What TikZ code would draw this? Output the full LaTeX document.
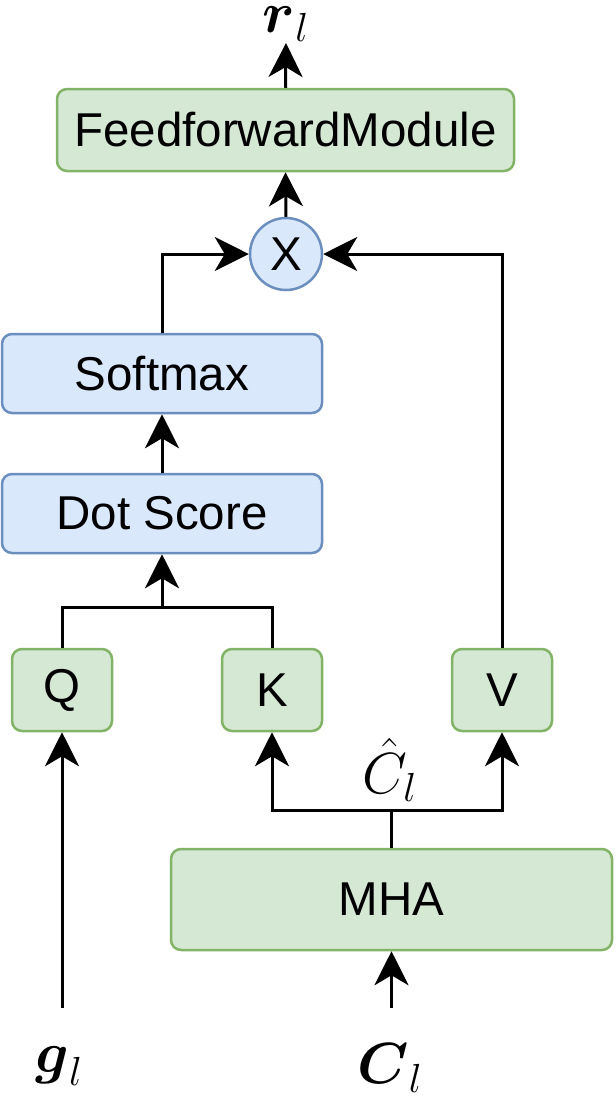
\RequirePackage{fix-cm}
\documentclass[tikz,border=0pt]{standalone}
\usepackage{amsmath}
\usepackage{amssymb}
\usepackage{fontspec}
\setmainfont{Liberation Sans}
\usetikzlibrary{arrows.meta}
\definecolor{gfill}{HTML}{D5E8D4}
\definecolor{gline}{HTML}{82B366}
\definecolor{bfill}{HTML}{DAE8FC}
\definecolor{bline}{HTML}{6C8EBF}
\tikzset{
  gbox/.style={draw=gline,fill=gfill,line width=1.25pt,rounded corners=5pt,inner sep=0pt},
  bbox/.style={draw=bline,fill=bfill,line width=1.25pt,rounded corners=5pt,inner sep=0pt},
  arr/.style={-{Stealth[length=17pt,width=17pt,inset=5pt]},line width=1.5pt},
  ln/.style={line width=1.5pt},
  lbl/.style={font=\fontsize{29}{34}\selectfont,inner sep=0pt},
}

\begin{document}
\begin{tikzpicture}[x=0.5pt,y=-0.5pt,font=\fontsize{23.75}{28}\selectfont]
  \useasboundingbox (0,0) rectangle (616,1100);
  % blocks
  \node[gbox,minimum width=228.5pt,minimum height=41pt] (ff) at (285.5,130) {FeedforwardModule};
  \node[bbox,circle,minimum size=36pt] (mul) at (286,254) {X};
  \node[bbox,minimum width=160pt,minimum height=39.5pt] (soft) at (162,373.5) {Softmax};
  \node[bbox,minimum width=160pt,minimum height=39.5pt] (dot) at (162,513.5) {Dot Score};
  \node[gbox,minimum width=50pt,minimum height=41pt] (q) at (62,690) {Q};
  \node[gbox,minimum width=50pt,minimum height=41pt] (k) at (272,690) {K};
  \node[gbox,minimum width=50pt,minimum height=41pt] (v) at (502,690) {V};
  \node[gbox,minimum width=220.5pt,minimum height=50.5pt] (mha) at (391.5,899.5) {MHA};
  % labels
  \node[lbl] (rl) at (286,24) {$\boldsymbol{r}_l$};
  \node[lbl] (ch) at (390,770) {$\hat{C}_l$};
  \node[lbl] (gl) at (59,1066) {$\boldsymbol{g}_l$};
  \node[lbl] (cl) at (390,1068) {$\boldsymbol{C}_l$};
  \coordinate (rtip) at (286,43);
  \coordinate (qk) at (162,607);
  \coordinate (kv) at (391.5,810);
  \coordinate (gin) at (62,1008);
  \coordinate (cin) at (391.5,1008);
  % connectors
  \draw[arr] (ff.north) -- (rtip);
  \draw[arr] (mul.north) -- (ff.south);
  \draw[arr] (soft.north) |- (mul.west);
  \draw[arr] (v.north) |- (mul.east);
  \draw[arr] (dot.north) -- (soft.south);
  \draw[ln] (q.north) |- (qk) -| (k.north);
  \draw[arr] (qk) -- (dot.south);
  \draw[arr] (gin) -- (q.south);
  \draw[ln] (mha.north) -- (kv);
  \draw[arr] (kv) -| (k.south);
  \draw[arr] (kv) -| (v.south);
  \draw[arr] (cin) -- (mha.south);
\end{tikzpicture}
\end{document}
